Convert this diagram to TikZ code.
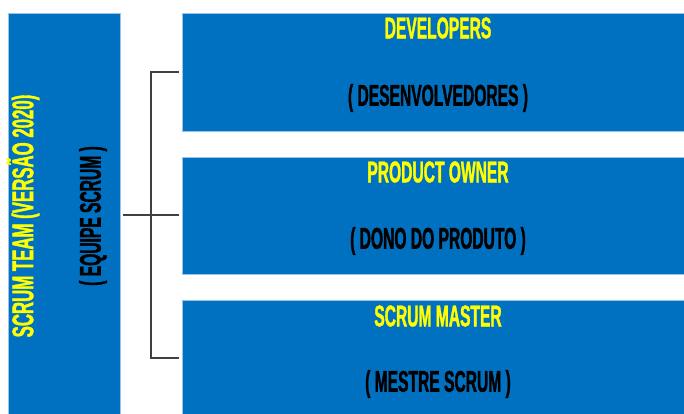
\documentclass[tikz,border=0pt]{standalone}
\usepackage{fontspec}
\setmainfont{Liberation Sans}[FakeStretch=0.52,BoldFont={Liberation Sans Bold},BoldFeatures={FakeStretch=0.52,FakeBold=1.2}]
\newfontfamily\lefttitlefont{Liberation Sans Bold}[FakeStretch=0.56,FakeBold=1.2]
\definecolor{boxblue}{HTML}{0070C0}
\definecolor{ttyellow}{HTML}{FFFF00}
\definecolor{linegray}{HTML}{404040}
\tikzset{
  blk/.style={fill=boxblue, draw=boxblue!40, line width=0.5pt},
  ttl/.style={text=ttyellow, font=\bfseries\fontsize{30}{30}\selectfont, inner sep=0pt, anchor=center},
  sub/.style={text=black, font=\bfseries\fontsize{30}{30}\selectfont, inner sep=0pt, anchor=center},
  conn/.style={draw=linegray, line width=2.5pt}
}
\begin{document}
\begin{tikzpicture}[x=1pt,y=-1pt]
\useasboundingbox (0,0) rectangle (684,414);
\fill[white] (0,0) rectangle (684,414);
% boxes
\path[blk] (8,13) rectangle (120,414.5);
\path[blk] (182,13) rectangle (684.5,131);
\path[blk] (182,157) rectangle (684.5,274);
\path[blk] (182,300) rectangle (684.5,414.5);
\node[ttl, rotate=90, font=\lefttitlefont\fontsize{30}{30}\selectfont] (team) at (23,216) {SCRUM TEAM (VERSÃO 2020)};
\node[sub, rotate=90] (equipe) at (93,216) {( EQUIPE SCRUM )};
\node[ttl] (dev) at (438,28) {DEVELOPERS};
\node[sub] (devpt) at (438,98) {( DESENVOLVEDORES )};
\node[ttl] (po) at (438,172) {PRODUCT OWNER};
\node[sub] (popt) at (438,241) {( DONO DO PRODUTO )};
\node[ttl] (sm) at (438,316) {SCRUM MASTER};
\node[sub] (smpt) at (438,384) {( MESTRE SCRUM )};
% connectors
\coordinate (l) at (123,215);
\coordinate (j) at (151,215);
\coordinate (t) at (151,72);
\coordinate (b) at (151,358);
\coordinate (r1) at (179,72);
\coordinate (r2) at (179,215);
\coordinate (r3) at (179,358);
\draw[conn] (l) -- (r2);
\draw[conn] (r1) -- (t) -- (b) -- (r3);
\end{tikzpicture}
\end{document}
